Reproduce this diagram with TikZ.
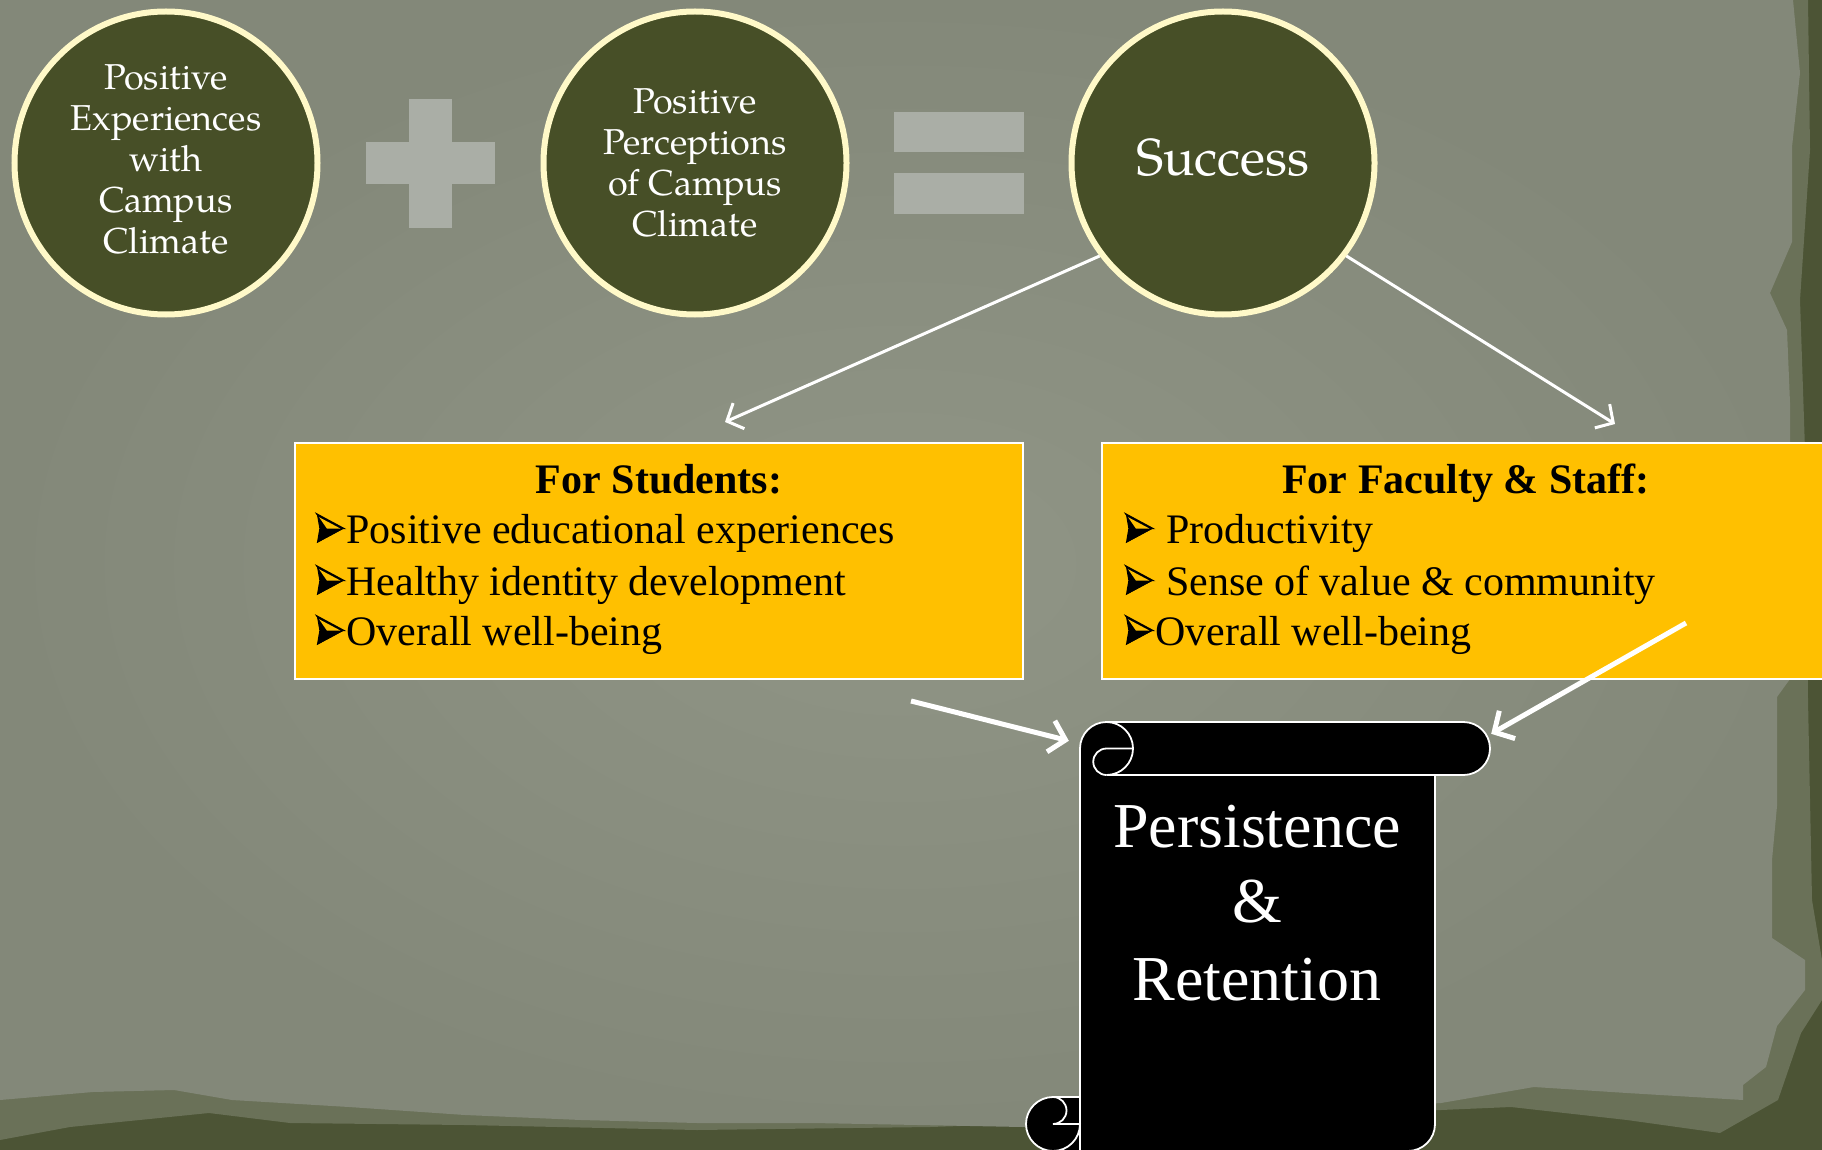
\documentclass[tikz,border=0pt]{standalone}
\usepackage{fontspec}
\setmainfont{Liberation Serif}
\newfontfamily\palfont{TeX Gyre Pagella}
\usetikzlibrary{arrows.meta,calc}

\definecolor{paperlight}{RGB}{144,149,134}
\definecolor{paper}{RGB}{131,136,121}
\definecolor{papermid}{RGB}{106,113,88}
\definecolor{paperdark}{RGB}{76,84,53}
\definecolor{olive}{RGB}{71,79,39}
\definecolor{cream}{RGB}{255,249,200}
\definecolor{signgrey}{RGB}{170,174,166}
\definecolor{gold}{RGB}{255,192,0}

% three-dimensional arrowhead bullet: outlined upper facet, solid lower facet
\newcommand{\tip}{\tikz[x=1pt,y=1pt,baseline=0pt,line join=miter]{%
  \fill[black] (0,0) -- (27,14.5) -- (10,14.5) -- cycle;
  \draw[black, line width=1.3pt] (0,29) -- (27,14.5) -- (10,14.5) -- cycle;
  \fill[black] (0,0) -- (27,14.5) -- (0,29) -- (2.5,14.5) -- cycle;
  \fill[gold] (2.2,25.8) -- (23.5,14.5) -- (10,14.5) -- cycle;}\hspace{2pt}}

\tikzset{
  bubble/.style={circle, fill=olive, draw=cream, line width=6pt,
    minimum size=303pt, inner sep=0pt, text=white, align=center,
    font=\palfont\fontsize{36}{41}\selectfont},
  goldbox/.style={rectangle, fill=gold, draw=white, line width=2pt,
    minimum width=728pt, minimum height=236pt, inner sep=0pt},
  boxhead/.style={anchor=base, inner sep=0pt,
    font=\bfseries\fontsize{42}{51}\selectfont},
  listline/.style={anchor=base west, inner sep=0pt,
    font=\fontsize{42}{51}\selectfont},
  scrolltext/.style={anchor=base, inner sep=0pt, text=white,
    font=\fontsize{64}{77}\selectfont},
  link/.style={draw=white, line width=3pt,
    -{Straight Barb[length=13pt,width=28pt]}},
  heavylink/.style={draw=white, line width=5pt,
    -{Straight Barb[length=15pt,width=32pt]}},
  scrollline/.style={draw=white, line width=1.8pt},
}

\begin{document}
\begin{tikzpicture}[x=1pt, y=-1pt]
  \useasboundingbox (0,0) rectangle (1822,1150);
  \clip (0,0) rectangle (1822,1150);

  % paper background with torn, darker edges
  \fill[paperdark] (0,0) rectangle (1822,1150);
  \fill[papermid] (0,0) -- (1808,0) -- (1810,150) -- (1800,300) -- (1805,450)
    -- (1808,700) -- (1812,900) -- (1822,960) -- (1822,1000) -- (1801,1033)
    -- (1778,1100) -- (1720,1133) -- (1627,1120) -- (1511,1107) -- (1441,1110)
    -- (930,1127) -- (697,1130) -- (465,1125) -- (290,1123) -- (209,1113)
    -- (70,1127) -- (0,1140) -- cycle;
  \shade[inner color=paperlight, outer color=paper]
    (0,0) -- (1793,0) -- (1800,73) -- (1792,147) -- (1792,242) -- (1770,293)
    -- (1787,330) -- (1790,403) -- (1790,679) -- (1777,697) -- (1777,806)
    -- (1772,860) -- (1772,938) -- (1805,960) -- (1805,990) -- (1777,1026)
    -- (1766,1067) -- (1743,1085) -- (1743,1100) -- (1627,1093) -- (1534,1087)
    -- (1441,1103) -- (1023,1127) -- (813,1123) -- (697,1123) -- (581,1120)
    -- (465,1115) -- (349,1107) -- (232,1100) -- (174,1090) -- (93,1092)
    -- (0,1100) -- cycle;

  % the three circles
  \node[bubble] (exp) at (166,163) {\raisebox{2pt}{\begin{tabular}{@{}c@{}}Positive\\Experiences\\with\\Campus\\Climate\end{tabular}}};
  \node[bubble] (perc) at (695,163) {Positive\\Perceptions\\of Campus\\Climate};
  \node[bubble, font=\palfont\fontsize{52}{60}\selectfont] (succ) at (1223,163)
    {\raisebox{11pt}{Success}};

  % plus and equals signs
  \fill[signgrey] (366,142) rectangle (495,184);
  \fill[signgrey] (409,99) rectangle (452,228);
  \fill[signgrey] (894,112) rectangle (1024,152);
  \fill[signgrey] (894,173) rectangle (1024,214);

  % outcome boxes
  \node[goldbox] (stud) at (659,561) {};
  \node[goldbox] (fac) at (1466,561) {};

  \node[boxhead] (studhead) at (659,493) {For Students:};
  \node[listline] (stud1) at (316,543) {\tip Positive educational experiences};
  \node[listline] (stud2) at (316,595) {\tip Healthy identity development};
  \node[listline] (stud3) at (316,645) {\tip Overall well-being};

  \node[boxhead] (fachead) at (1466,493) {For Faculty \& Staff:};
  \node[listline] (fac1) at (1125,543) {\tip\ Productivity};
  \node[listline] (fac2) at (1125,595) {\tip\ Sense of value \& community};
  \node[listline] (fac3) at (1125,645) {\tip Overall well-being};

  % vertical scroll
  \node[rectangle, minimum width=411pt, minimum height=429pt, inner sep=0pt]
    (scroll) at (1284.5,936.5) {};
  \filldraw[fill=black, scrollline]
    (1080,748.5) arc[start angle=180, end angle=270, radius=26.5]
    -- (1463.5,722) arc[start angle=270, end angle=450, radius=26.5]
    -- (1435,775) -- (1435,1124) arc[start angle=0, end angle=90, radius=27]
    -- (1053,1151) arc[start angle=90, end angle=270, radius=27]
    -- (1080,1097) -- cycle;
  \draw[scrollline] (1106.5,722) arc[start angle=270, end angle=450, radius=26.5]
    -- (1435,775);
  \draw[scrollline] (1133,748.5) -- (1106.5,748.5)
    arc[start angle=270, end angle=90, radius=13.25];
  \draw[scrollline] (1053,1097) arc[start angle=270, end angle=450, radius=13.5]
    -- (1080,1124) arc[start angle=0, end angle=90, radius=27];
  \draw[scrollline] (1080,1097) -- (1080,1151);

  \node[scrolltext] (pers) at (1257,847) {Persistence};
  \node[scrolltext] (amp) at (1257,922) {\&};
  \node[scrolltext] (ret) at (1257,1000) {Retention};

  % connectors
  \coordinate (studtop) at ($(stud.north)+(66,-20)$);
  \coordinate (factop) at ($(fac.north)+(149,-18)$);
  \coordinate (studout) at ($(stud.south east)+(-113,21)$);
  \coordinate (facout) at ($(fac.center)+(220,62)$);
  \coordinate (scrollleft) at ($(scroll.north west)+(-10,19)$);
  \coordinate (scrollright) at ($(scroll.north east)+(1,12)$);

  \draw[link] (succ.217) -- (studtop);
  \draw[link] (succ.323) -- (factop);
  \draw[heavylink] (studout) -- (scrollleft);
  \draw[heavylink] (facout) -- (scrollright);
\end{tikzpicture}
\end{document}
